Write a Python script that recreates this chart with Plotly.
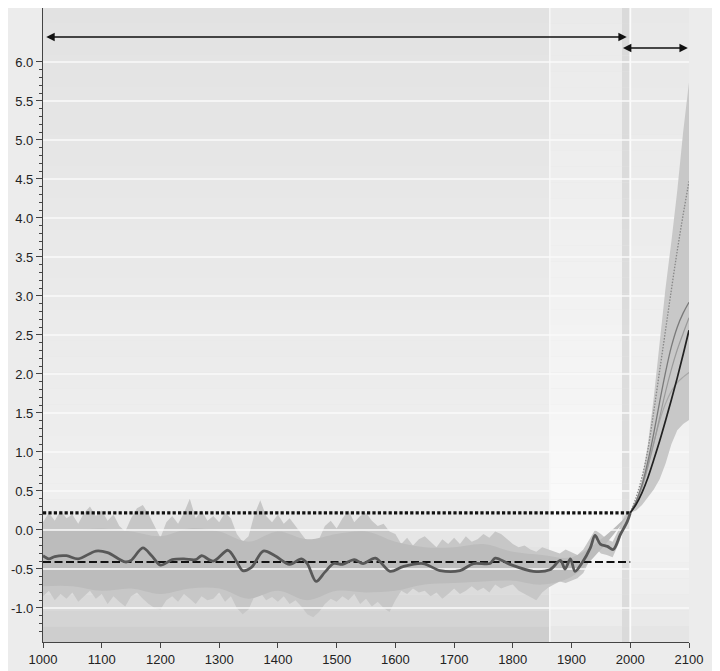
import plotly.graph_objects as go

# ---------------- data ----------------
band_years = list(range(1000, 2001, 10))
band_upper = [0.10, 0.22, 0.12, 0.25, 0.15, 0.20, 0.08, 0.22, 0.30, 0.18,
              0.25, 0.12, 0.20, 0.05, -0.02, 0.15, 0.28, 0.32, 0.20, 0.05,
              -0.10, 0.10, 0.18, 0.08, 0.22, 0.40, 0.15, 0.25, 0.12, 0.18,
              0.10, 0.22, 0.15, -0.05, -0.15, -0.08, 0.20, 0.38, 0.18, 0.10,
              0.20, 0.08, 0.15, 0.05, -0.05, -0.15, -0.25, -0.12, 0.05, 0.12,
              0.02, 0.15, 0.25, 0.10, 0.18, 0.22, 0.12, 0.05, 0.08, -0.02,
              -0.05, -0.18, -0.10, -0.20, -0.12, -0.08, -0.15, -0.22, -0.12, -0.18,
              -0.10, -0.18, -0.08, -0.15, -0.12, -0.05, -0.10, -0.02, -0.05, -0.12,
              -0.18, -0.22, -0.20, -0.25, -0.28, -0.22, -0.25, -0.28, -0.30, -0.25,
              -0.28, -0.32, -0.25, -0.12, 0.00, -0.05, -0.12, -0.15, 0.00, 0.18,
              0.25]
band_lower = [-0.85, -0.78, -0.90, -0.82, -0.88, -0.80, -0.92, -0.85, -0.78, -0.88,
              -0.82, -0.95, -0.85, -0.92, -0.98, -0.85, -0.80, -0.88, -0.95, -1.00,
              -1.02, -0.90, -0.85, -0.92, -0.82, -0.88, -0.95, -0.85, -0.90, -0.88,
              -0.80, -0.92, -0.85, -1.00, -1.08, -1.02, -0.85, -0.80, -0.90, -0.86,
              -0.92, -0.85, -0.95, -0.90, -0.98, -1.08, -1.12, -1.05, -0.95, -0.88,
              -0.92, -0.85, -0.90, -0.82, -0.95, -0.88, -0.98, -0.92, -1.00, -1.05,
              -0.90, -0.78, -0.82, -0.75, -0.80, -0.78, -0.85, -0.80, -0.88, -0.82,
              -0.75, -0.82, -0.78, -0.72, -0.78, -0.74, -0.80, -0.70, -0.75, -0.72,
              -0.70, -0.78, -0.82, -0.86, -0.90, -0.80, -0.74, -0.70, -0.66, -0.68,
              -0.65, -0.62, -0.55, -0.40, -0.22, -0.30, -0.32, -0.35, -0.18, 0.05,
              0.18]

# solid inner part of the uncertainty band
inner_years = list(range(1000, 2001, 50))
inner_upper = [0.00, 0.00, 0.02, -0.02, -0.08, 0.02, -0.02, -0.15, -0.02, -0.12, -0.05,
               -0.02, -0.15, -0.22, -0.22, -0.18, -0.28, -0.32, -0.35, -0.12, 0.22]
inner_lower = [-0.72, -0.72, -0.78, -0.75, -0.82, -0.75, -0.75, -0.88, -0.78, -0.90, -0.78,
               -0.80, -0.78, -0.70, -0.68, -0.66, -0.65, -0.70, -0.60, -0.25, 0.22]

smooth_years = [1000, 1010, 1020, 1040, 1060, 1090, 1110, 1140, 1150, 1170, 1185,
                1200, 1220, 1240, 1260, 1270, 1290, 1315, 1330, 1340, 1355, 1375,
                1395, 1420, 1440, 1450, 1465, 1480, 1495, 1510, 1530, 1545, 1566,
                1591, 1613, 1647, 1676, 1710, 1733, 1761, 1770, 1795, 1835, 1863,
                1881, 1889, 1898, 1906, 1918, 1932, 1940, 1949, 1961, 1971, 1983,
                1995, 2000]
smooth_vals = [-0.33, -0.37, -0.34, -0.33, -0.37, -0.27, -0.29, -0.41, -0.39, -0.23, -0.33,
               -0.45, -0.38, -0.37, -0.38, -0.33, -0.40, -0.26, -0.41, -0.52, -0.48, -0.27,
               -0.33, -0.44, -0.37, -0.43, -0.66, -0.54, -0.43, -0.44, -0.38, -0.43, -0.36,
               -0.53, -0.47, -0.43, -0.52, -0.52, -0.43, -0.43, -0.36, -0.44, -0.53, -0.51,
               -0.39, -0.50, -0.37, -0.53, -0.42, -0.23, -0.07, -0.18, -0.21, -0.25, -0.06,
               0.11, 0.22]

ref_years = [1000, 2000]
dashed_level = [-0.41, -0.41]
dotted_level = [0.22, 0.22]

proj_years = [2000, 2010, 2020, 2030, 2040, 2050, 2060, 2070, 2080, 2090, 2100]
proj_upper = [0.22, 0.38, 0.65, 1.10, 1.70, 2.40, 3.10, 3.70, 4.35, 5.10, 5.74]
proj_lower = [0.22, 0.25, 0.32, 0.42, 0.52, 0.65, 0.85, 1.10, 1.28, 1.36, 1.41]
proj_black = [0.22, 0.33, 0.48, 0.67, 0.90, 1.14, 1.40, 1.67, 1.95, 2.25, 2.56]
proj_gray1 = [0.22, 0.37, 0.58, 0.88, 1.24, 1.64, 2.02, 2.35, 2.60, 2.78, 2.92]
proj_gray2 = [0.22, 0.36, 0.55, 0.81, 1.11, 1.44, 1.77, 2.06, 2.31, 2.52, 2.72]
proj_gray3 = [0.22, 0.36, 0.56, 0.83, 1.12, 1.40, 1.62, 1.78, 1.89, 1.96, 2.02]
proj_dotted = [0.22, 0.42, 0.68, 1.03, 1.52, 2.04, 2.56, 3.08, 3.58, 4.04, 4.47]

y_major = [-1.0, -0.5, 0.0, 0.5, 1.0, 1.5, 2.0, 2.5, 3.0, 3.5, 4.0, 4.5, 5.0, 5.5, 6.0]
x_major = [1000, 1100, 1200, 1300, 1400, 1500, 1600, 1700, 1800, 1900, 2000, 2100]

# arrows: (start year, end year, level)
arrows = [(1003, 1994, 6.32), (1985, 2098, 6.18)]

# ---------------- figure ----------------
# the page body adds an 8px offset, so the figure is sized to fill the window from there
Y0, Y1 = -1.436, 6.692
X0, X1 = 1000, 2100

fig = go.Figure()

def hex2rgb(h):
    h = h.lstrip('#')
    return [int(h[i:i + 2], 16) for i in (0, 2, 4)]

def interp_color(stops, y):
    for (ya, ca), (yb, cb) in zip(stops[:-1], stops[1:]):
        if ya >= y >= yb:
            t = (ya - y) / (ya - yb) if ya != yb else 0
            a, b = hex2rgb(ca), hex2rgb(cb)
            c = [round(a[i] + (b[i] - a[i]) * t) for i in range(3)]
            return 'rgb(%d,%d,%d)' % tuple(c)
    return stops[-1][1]

regions = [
    (1000, 1863, [(6.8, '#e2e2e2'), (4.0, '#e8e8e8'), (1.5, '#ededed'), (0.5, '#efefef'),
                  (0.0, '#e8e8e8'), (-1.0, '#d8d8d8'), (-1.45, '#cacaca')]),
    (1863, 1986, [(6.8, '#eaeaea'), (4.0, '#efefef'), (1.5, '#f5f5f5'), (0.5, '#fafafa'),
                  (0.0, '#f8f8f8'), (-1.0, '#efefef'), (-1.45, '#e4e4e4')]),
    (1986, 2000, [(6.8, '#dadada'), (0.0, '#dedede'), (-1.45, '#dadada')]),
    (2000, 2100, [(6.8, '#e8e8e8'), (4.0, '#ececec'), (1.5, '#f0f0f0'), (0.3, '#f5f5f5'),
                  (-1.0, '#ececec'), (-1.45, '#e2e2e2')]),
]
shapes = []
N = 40
for xa, xb, stops in regions:
    for i in range(N):
        ya = Y1 - (Y1 - Y0) * i / N
        yb = Y1 - (Y1 - Y0) * (i + 1) / N
        shapes.append(dict(type='rect', xref='x', yref='y', x0=xa, x1=xb, y0=yb, y1=ya,
                           fillcolor=interp_color(stops, (ya + yb) / 2),
                           line=dict(width=0), layer='below'))
shapes.append(dict(type='line', xref='x', yref='y', x0=1863, x1=1863, y0=Y0, y1=Y1,
                   line=dict(color='#f7f7f7', width=1.5), layer='below'))
shapes.append(dict(type='line', xref='x', yref='y', x0=2000, x1=2000, y0=Y0, y1=Y1,
                   line=dict(color='#fbfbfb', width=1.8), layer='below'))

# historic uncertainty band (spiky outer part, solid inner part)
fig.add_trace(go.Scatter(x=band_years, y=band_lower, mode='lines',
                         line=dict(width=0, color='#c6c6c6'), hoverinfo='skip', showlegend=False))
fig.add_trace(go.Scatter(x=band_years, y=band_upper, mode='lines', fill='tonexty',
                         fillcolor='#c7c7c7', line=dict(width=0, color='#c7c7c7'),
                         hoverinfo='skip', showlegend=False))
fig.add_trace(go.Scatter(x=inner_years, y=inner_lower, mode='lines',
                         line=dict(width=0, color='#bbbbbb', shape='spline'),
                         hoverinfo='skip', showlegend=False))
fig.add_trace(go.Scatter(x=inner_years, y=inner_upper, mode='lines', fill='tonexty',
                         fillcolor='#bcbcbc', line=dict(width=0, color='#bcbcbc', shape='spline'),
                         hoverinfo='skip', showlegend=False))

# gridlines drawn over the historic band
gx, gy = [], []
for v in y_major:
    gx += [X0, X1, None]
    gy += [v, v, None]
fig.add_trace(go.Scatter(x=gx, y=gy, mode='lines', line=dict(color='#fafafa', width=1.5),
                         hoverinfo='skip', showlegend=False))

# projection band
fig.add_trace(go.Scatter(x=proj_years, y=proj_lower, mode='lines',
                         line=dict(width=0, color='#c6c6c6'), hoverinfo='skip', showlegend=False))
fig.add_trace(go.Scatter(x=proj_years, y=proj_upper, mode='lines', fill='tonexty',
                         fillcolor='#c8c8c8', line=dict(width=0, color='#c8c8c8'),
                         hoverinfo='skip', showlegend=False))

# reference levels
fig.add_trace(go.Scatter(x=ref_years, y=dashed_level, mode='lines',
                         line=dict(color='#111111', width=2, dash='8px,3.5px'),
                         showlegend=False))
fig.add_trace(go.Scatter(x=ref_years, y=dotted_level, mode='lines',
                         line=dict(color='#111111', width=3.2, dash='3.2px,2.2px'),
                         showlegend=False))

# smoothed reconstruction
fig.add_trace(go.Scatter(x=smooth_years, y=smooth_vals, mode='lines',
                         line=dict(color='#585858', width=2.8, shape='spline', smoothing=0.9),
                         showlegend=False))

# projection lines
fig.add_trace(go.Scatter(x=proj_years, y=proj_gray3, mode='lines',
                         line=dict(color='#a8a8a8', width=1.2, shape='spline'), showlegend=False))
fig.add_trace(go.Scatter(x=proj_years, y=proj_gray2, mode='lines',
                         line=dict(color='#9a9a9a', width=1.2, shape='spline'), showlegend=False))
fig.add_trace(go.Scatter(x=proj_years, y=proj_gray1, mode='lines',
                         line=dict(color='#7a7a7a', width=1.3, shape='spline'), showlegend=False))
fig.add_trace(go.Scatter(x=proj_years, y=proj_dotted, mode='lines',
                         line=dict(color='#888888', width=1.3, dash='1.5px,1.5px', shape='spline'),
                         showlegend=False))
fig.add_trace(go.Scatter(x=proj_years, y=proj_black, mode='lines',
                         line=dict(color='#222222', width=1.7, shape='spline'), showlegend=False))

annotations = []
for xa, xb, lv in arrows:
    annotations.append(dict(x=xb, y=lv, ax=xa, ay=lv, xref='x', yref='y', axref='x', ayref='y',
                            text='', showarrow=True, arrowhead=2, arrowside='end+start',
                            arrowsize=1.2, arrowwidth=1.4, arrowcolor='#111111'))

minor_vals = [round(k * 0.1, 1) for k in range(-13, 60) if k % 5 != 0]

fig.update_layout(
    width=712, height=663,
    margin=dict(l=35, r=31, t=0, b=29, autoexpand=False),
    paper_bgcolor='#ececec', plot_bgcolor='#e6e6e6',
    font=dict(family='Liberation Sans, Arial, sans-serif', size=13, color='#222222'),
    shapes=shapes, annotations=annotations, showlegend=False,
    xaxis=dict(range=[X0, X1], tickvals=x_major, ticktext=[str(v) for v in x_major],
               showgrid=False, zeroline=False, showline=True, linecolor='#444444', linewidth=1.2,
               ticks='outside', ticklen=5, tickcolor='#444444', tickwidth=1.2,
               automargin=False),
    yaxis=dict(range=[Y0, Y1], tickvals=y_major, ticktext=['%.1f' % v for v in y_major],
               showgrid=False, zeroline=False, showline=True, linecolor='#444444', linewidth=1.2,
               ticks='outside', ticklen=6, tickcolor='#444444', tickwidth=1.2,
               automargin=False,
               minor=dict(tickvals=minor_vals, ticks='outside', ticklen=3,
                          tickcolor='#444444', tickwidth=1, showgrid=False)),
)

fig.write_html("out.html")
